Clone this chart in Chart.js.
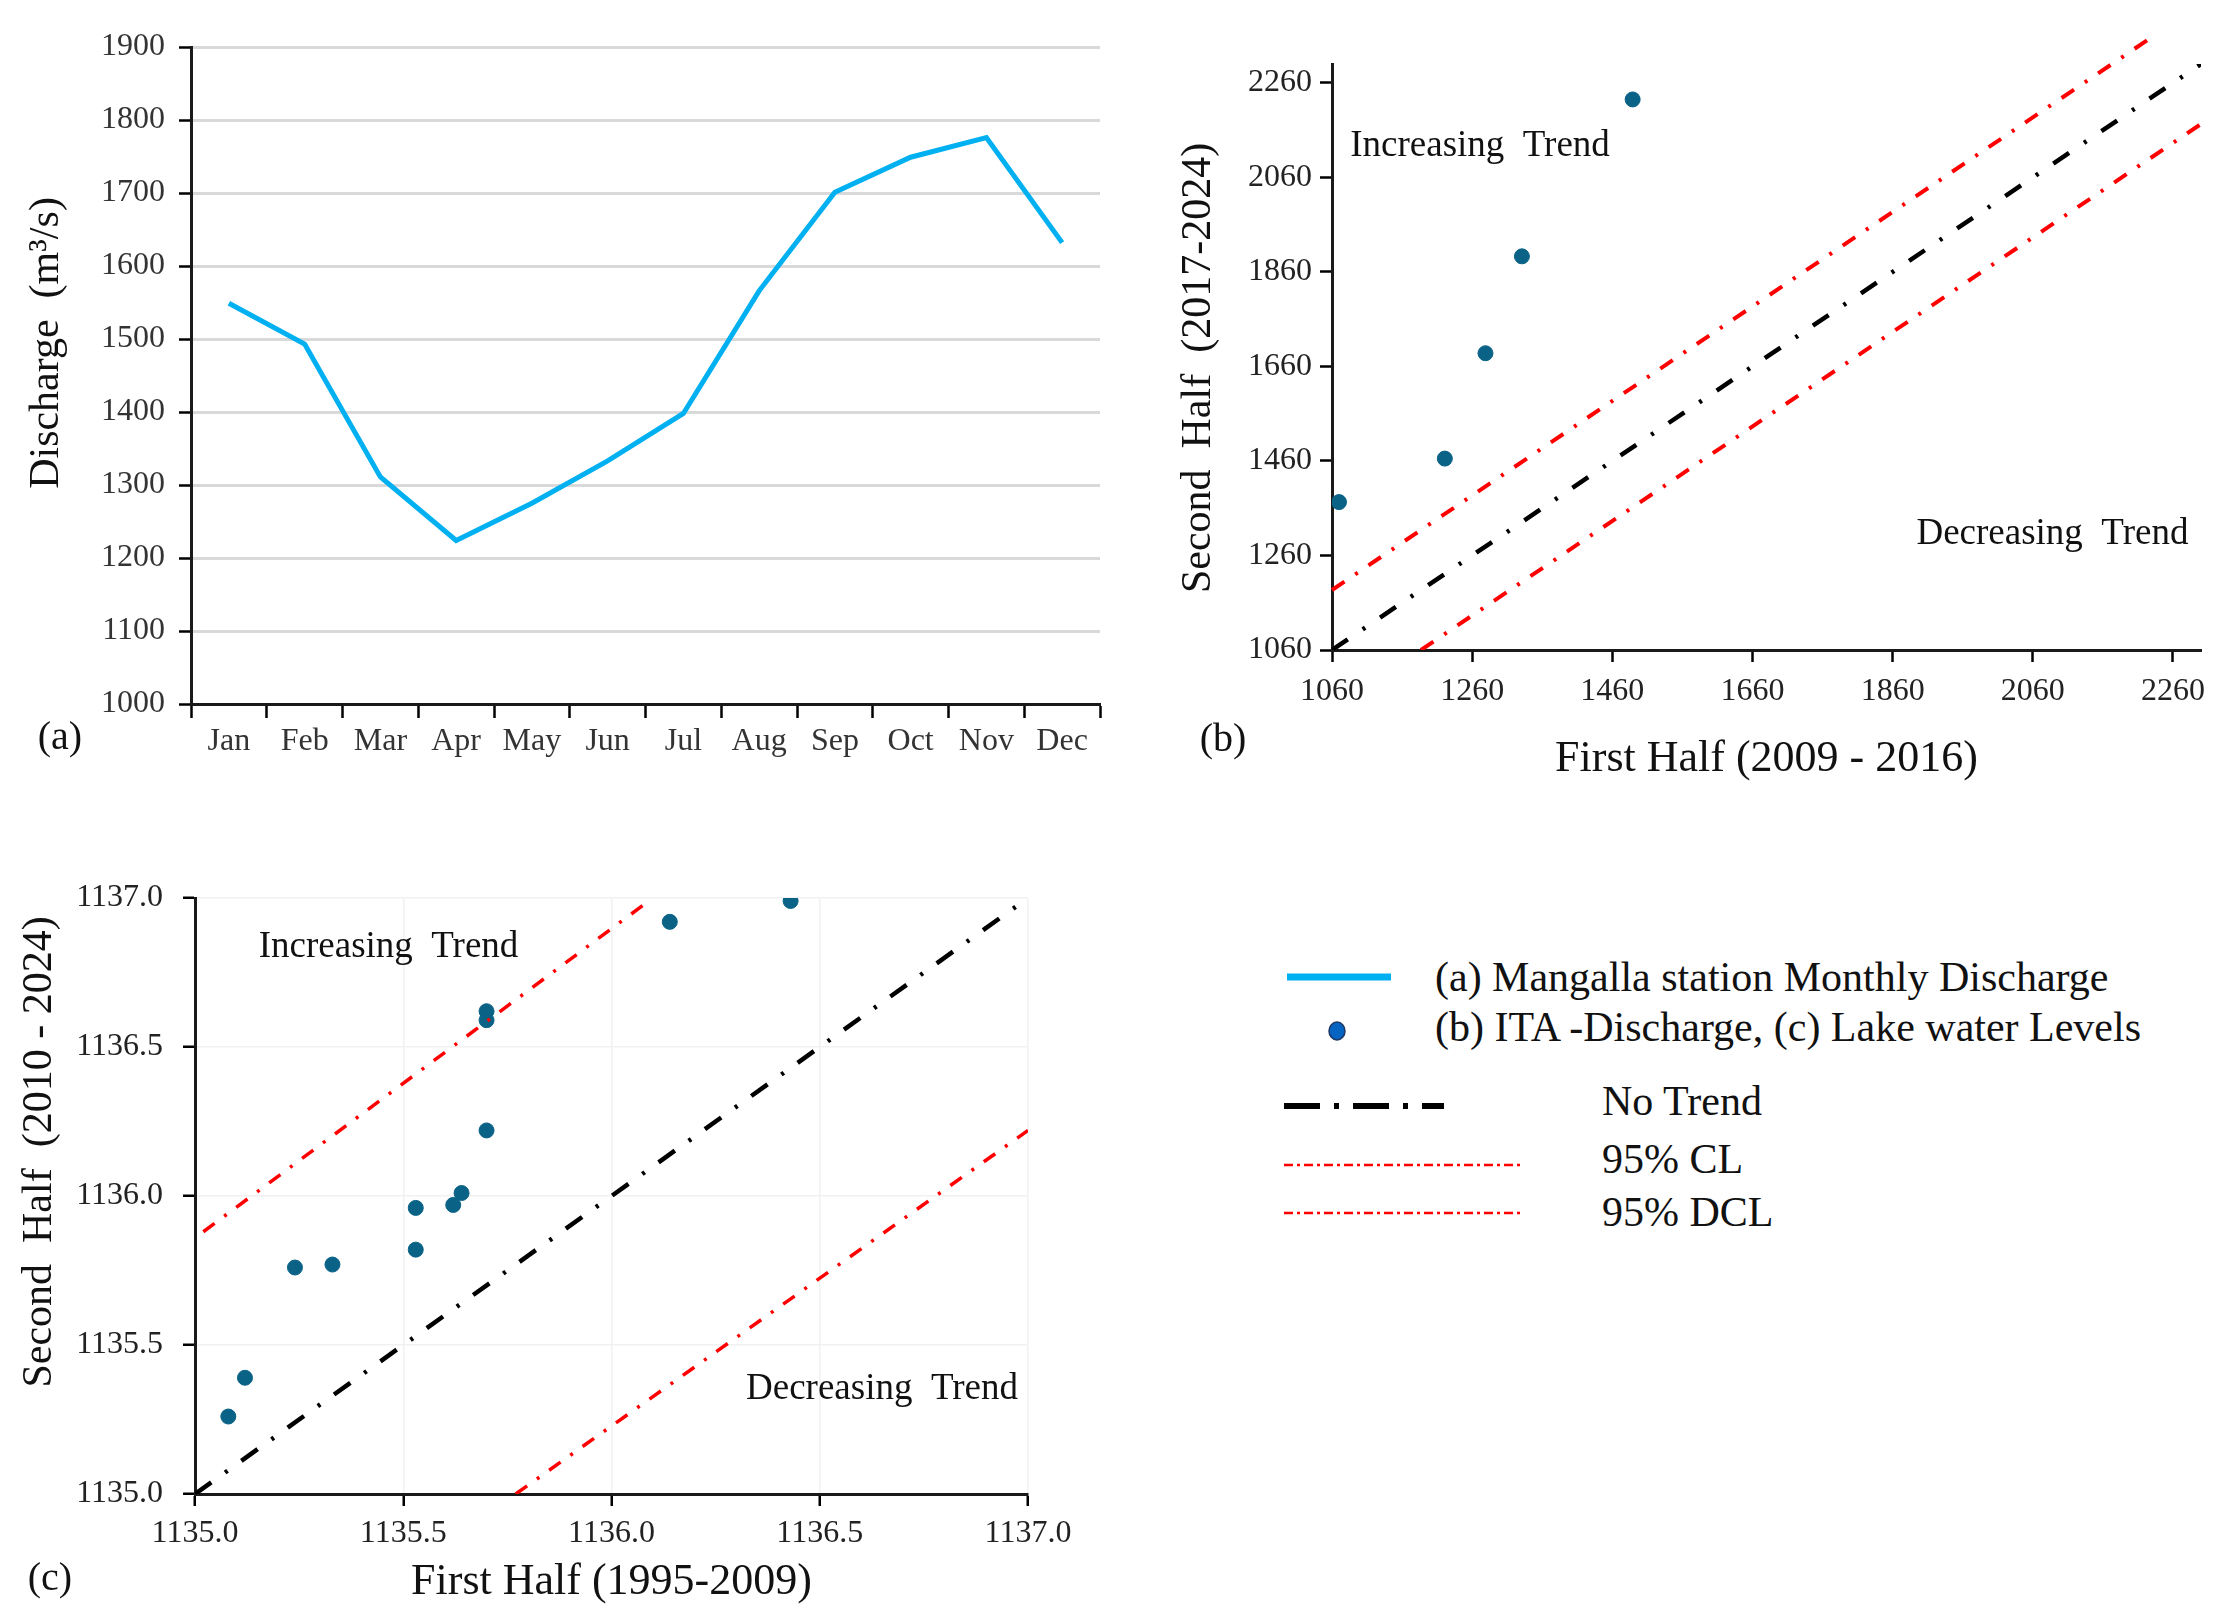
<!DOCTYPE html>
<html lang="en">
<head>
<meta charset="UTF-8">
<title>Mangalla discharge and ITA trend plots</title>
<script src="https://cdn.jsdelivr.net/npm/chart.js@4.4.1/dist/chart.umd.min.js"></script>
<style>
    body { margin: 0; background: #fff; }
    #page { position: relative; width: 2217px; height: 1615px; overflow: hidden;
            font-family: "Liberation Serif", "Times New Roman", serif; color: #111; }
    canvas { position: absolute; }
    .tag { position: absolute; font-size: 40px; line-height: 1; transform: translate(-50%, -50%); }
    .leg { position: absolute; font-size: 42px; line-height: 1; transform: translateY(-50%); white-space: nowrap; }
    .sample { position: absolute; transform: translateY(-50%); }
</style>
</head>
<body>
<div id="page">
    <canvas id="chartA" width="1130" height="800" style="left:0;top:0"></canvas>
    <canvas id="chartB" width="1067" height="800" style="left:1150px;top:0"></canvas>
    <canvas id="chartC" width="1130" height="795" style="left:0;top:820px"></canvas>

    <div class="tag" style="left:60px;top:736px">(a)</div>
    <div class="tag" style="left:1223px;top:738px">(b)</div>
    <div class="tag" style="left:50px;top:1577px">(c)</div>

    <!-- legende commune -->
    <svg class="sample" style="left:1287px;top:977px" width="104" height="10">
        <line x1="0" y1="5" x2="104" y2="5" stroke="#00b0f0" stroke-width="7"/>
    </svg>
    <div class="leg" style="left:1435px;top:977px">(a) Mangalla station Monthly Discharge</div>
    <svg class="sample" style="left:1327px;top:1031px" width="20" height="22">
        <ellipse cx="10" cy="11" rx="8" ry="9" fill="#0563c1" stroke="#1f3864" stroke-width="1.5"/>
    </svg>
    <div class="leg" style="left:1435px;top:1027px">(b) ITA -Discharge, (c) Lake water Levels</div>
    <svg class="sample" style="left:1284px;top:1106px" width="160" height="8">
        <line x1="0" y1="4" x2="160" y2="4" stroke="#000" stroke-width="6" stroke-dasharray="36 14 5 14"/>
    </svg>
    <div class="leg" style="left:1602px;top:1101px">No Trend</div>
    <svg class="sample" style="left:1284px;top:1165px" width="236" height="4">
        <line x1="0" y1="2" x2="236" y2="2" stroke="#ff0000" stroke-width="2.5" stroke-dasharray="9 4 3 4"/>
    </svg>
    <div class="leg" style="left:1602px;top:1159px">95% CL</div>
    <svg class="sample" style="left:1284px;top:1213px" width="236" height="4">
        <line x1="0" y1="2" x2="236" y2="2" stroke="#ff0000" stroke-width="2.5" stroke-dasharray="9 4 3 4"/>
    </svg>
    <div class="leg" style="left:1602px;top:1212px">95% DCL</div>
</div>

<script>
    // (a) debit mensuel moyen, station de Mangalla
    const months = ['Jan', 'Feb', 'Mar', 'Apr', 'May', 'Jun', 'Jul', 'Aug', 'Sep', 'Oct', 'Nov', 'Dec'];
    const monthlyDischarge = [1549, 1493, 1311, 1224, 1275, 1333, 1398, 1566, 1701, 1749, 1776, 1632];
    const ticksA = [1000, 1100, 1200, 1300, 1400, 1500, 1600, 1700, 1800, 1900];

    // (b) ITA debit
    const firstHalfB = [1070, 1221, 1279, 1331, 1489];
    const secondHalfB = [1373, 1465, 1688, 1893, 2225];
    const ticksB = [1060, 1260, 1460, 1660, 1860, 2060, 2260];
    const noTrendBx = [1060, 2300], noTrendBy = [1060, 2300];
    const upperClBx = [1060, 2230], upperClBy = [1187, 2357];
    const lowerClBx = [1187, 2300], lowerClBy = [1060, 2173];

    // (c) ITA niveau du lac
    const firstHalfC = [1135.08, 1135.12, 1135.24, 1135.33, 1135.53, 1135.53, 1135.62,
                        1135.64, 1135.70, 1135.70, 1135.70, 1136.14, 1136.43];
    const secondHalfC = [1135.26, 1135.39, 1135.76, 1135.77, 1135.82, 1135.96, 1135.97,
                         1136.01, 1136.22, 1136.59, 1136.62, 1136.92, 1136.99];
    const ticksC = [1135.0, 1135.5, 1136.0, 1136.5, 1137.0];
    const noTrendCx = [1135, 1137], noTrendCy = [1135, 1137];
    const upperClCx = [1135.02, 1136.08], upperClCy = [1135.88, 1136.98];
    const lowerClCx = [1135.77, 1137.0], lowerClCy = [1135.0, 1136.22];

    const serif = '"Liberation Serif", "Times New Roman", serif';
    Chart.defaults.font.family = serif;
    Chart.defaults.color = '#222';

    const zip = (xs, ys) => xs.map((x, i) => ({ x: x, y: ys[i] }));
    const setTicks = values => scale => { scale.ticks = values.map(v => ({ value: v })); };

    // textes libres : "Increasing / Decreasing Trend" en coordonnees de donnees,
    // titre vertical en pixels du canvas
    const freeText = {
        id: 'freeText',
        afterDatasetsDraw(chart, args, opts) {
            const { ctx, scales: { x, y } } = chart;
            ctx.save();
            ctx.fillStyle = '#111';
            ctx.textBaseline = 'middle';
            ctx.font = '37px ' + serif;
            (opts.items || []).forEach(it => {
                ctx.textAlign = it.align;
                ctx.fillText(it.text, x.getPixelForValue(it.x), y.getPixelForValue(it.y));
            });
            if (opts.yTitle) {
                const t = opts.yTitle;
                ctx.font = '42px ' + serif;
                ctx.textAlign = 'center';
                ctx.translate(t.cx, t.cy);
                ctx.rotate(-Math.PI / 2);
                ctx.fillText(t.text, 0, 0);
            }
            ctx.restore();
        }
    };

    const axisLine = { color: '#1a1a1a', width: 3 };
    const tickFont = { size: 32, family: serif };
    const titleFont = { size: 44, family: serif };
    const plain = v => String(v);

    function refLine(xs, ys, color, width, dash, clip) {
        return {
            type: 'line', data: zip(xs, ys), borderColor: color, borderWidth: width,
            borderDash: dash, pointRadius: 0, fill: false, clip: clip ? false : undefined
        };
    }

    // ---- (a)
    new Chart(document.getElementById('chartA'), {
        type: 'line',
        data: {
            labels: months,
            datasets: [{
                data: monthlyDischarge, borderColor: '#00b0f0', borderWidth: 5,
                pointRadius: 0, tension: 0, fill: false
            }]
        },
        plugins: [freeText],
        options: {
            responsive: false, animation: false, devicePixelRatio: 1,
            layout: { padding: { top: 47, right: 30, left: 0, bottom: 0 } },
            plugins: {
                legend: { display: false }, tooltip: { enabled: false },
                freeText: { yTitle: { text: 'Discharge  (m³/s)', cx: 47, cy: 343 } }
            },
            scales: {
                x: {
                    offset: true,
                    grid: { offset: true, drawOnChartArea: false, tickLength: 14, tickColor: '#000', tickWidth: 2.5 },
                    border: axisLine,
                    ticks: { font: tickFont, padding: 4, color: '#333' },
                    afterFit: s => { s.height = 96; }
                },
                y: {
                    min: 1000, max: 1900,
                    afterBuildTicks: setTicks(ticksA),
                    grid: { color: '#d9d9d9', lineWidth: 3, tickLength: 12, tickColor: '#000', tickWidth: 2.5 },
                    border: axisLine,
                    ticks: { font: tickFont, padding: 14, color: '#333', callback: plain },
                    afterFit: s => { s.width = 191; }
                }
            }
        }
    });

    // ---- (b)
    new Chart(document.getElementById('chartB'), {
        type: 'scatter',
        data: {
            datasets: [
                refLine(noTrendBx, noTrendBy, '#000', 4.5, [19, 18, 3, 18]),
                refLine(upperClBx, upperClBy, '#ff0000', 4, [15, 13, 3, 13], true),
                refLine(lowerClBx, lowerClBy, '#ff0000', 4, [15, 13, 3, 13]),
                {
                    data: zip(firstHalfB, secondHalfB), backgroundColor: '#0a6286',
                    borderColor: '#0a6286', pointRadius: 7.5
                }
            ]
        },
        plugins: [freeText],
        options: {
            responsive: false, animation: false, devicePixelRatio: 1,
            layout: { padding: { top: 64, right: 16, left: 0, bottom: 0 } },
            plugins: {
                legend: { display: false }, tooltip: { enabled: false },
                freeText: {
                    items: [
                        { text: 'Increasing  Trend', x: 1086, y: 2126, align: 'left' },
                        { text: 'Decreasing  Trend', x: 2282, y: 1305, align: 'right' }
                    ],
                    yTitle: { text: 'Second  Half  (2017-2024)', cx: 49, cy: 368 }
                }
            },
            scales: {
                x: {
                    min: 1060, max: 2300,
                    afterBuildTicks: setTicks(ticksB),
                    grid: { drawOnChartArea: false, tickLength: 12, tickColor: '#000', tickWidth: 2.5 },
                    border: axisLine,
                    ticks: { font: tickFont, padding: 10, maxRotation: 0, callback: plain },
                    title: { display: true, text: 'First Half (2009 - 2016)', font: titleFont, color: '#111', padding: { bottom: 14 } },
                    afterFit: s => { s.height = 150; }
                },
                y: {
                    min: 1060, max: 2300,
                    afterBuildTicks: setTicks(ticksB),
                    grid: { drawOnChartArea: false, tickLength: 12, tickColor: '#000', tickWidth: 2.5 },
                    border: axisLine,
                    ticks: { font: tickFont, padding: 8, callback: plain },
                    afterFit: s => { s.width = 182; }
                }
            }
        }
    });

    // ---- (c)
    new Chart(document.getElementById('chartC'), {
        type: 'scatter',
        data: {
            datasets: [
                refLine(noTrendCx, noTrendCy, '#000', 4.5, [20, 17, 3, 17]),
                refLine(upperClCx, upperClCy, '#ff0000', 3.5, [14, 12, 3, 12]),
                refLine(lowerClCx, lowerClCy, '#ff0000', 3.5, [14, 12, 3, 12]),
                {
                    data: zip(firstHalfC, secondHalfC), backgroundColor: '#0a6286',
                    borderColor: '#0a6286', pointRadius: 7.5
                }
            ]
        },
        plugins: [freeText],
        options: {
            responsive: false, animation: false, devicePixelRatio: 1,
            layout: { padding: { top: 78, right: 102, left: 0, bottom: 0 } },
            plugins: {
                legend: { display: false }, tooltip: { enabled: false },
                freeText: {
                    items: [
                        { text: 'Increasing  Trend', x: 1135.153, y: 1136.834, align: 'left' },
                        { text: 'Decreasing  Trend', x: 1136.976, y: 1135.35, align: 'right' }
                    ],
                    yTitle: { text: 'Second  Half  (2010 - 2024)', cx: 40, cy: 332 }
                }
            },
            scales: {
                x: {
                    min: 1135, max: 1137,
                    afterBuildTicks: setTicks(ticksC),
                    grid: { color: '#f1f1f1', lineWidth: 1.5, tickLength: 12, tickColor: '#000', tickWidth: 2.5 },
                    border: axisLine,
                    ticks: { font: tickFont, padding: 8, maxRotation: 0, callback: v => v.toFixed(1) },
                    title: { display: true, text: 'First Half (1995-2009)', font: titleFont, color: '#111', padding: { bottom: 6 } },
                    afterFit: s => { s.height = 121; }
                },
                y: {
                    min: 1135, max: 1137,
                    afterBuildTicks: setTicks(ticksC),
                    grid: { color: '#f1f1f1', lineWidth: 1.5, tickLength: 12, tickColor: '#000', tickWidth: 2.5 },
                    border: axisLine,
                    ticks: { font: tickFont, padding: 20, callback: v => v.toFixed(1) },
                    afterFit: s => { s.width = 195; }
                }
            }
        }
    });
</script>
</body>
</html>
